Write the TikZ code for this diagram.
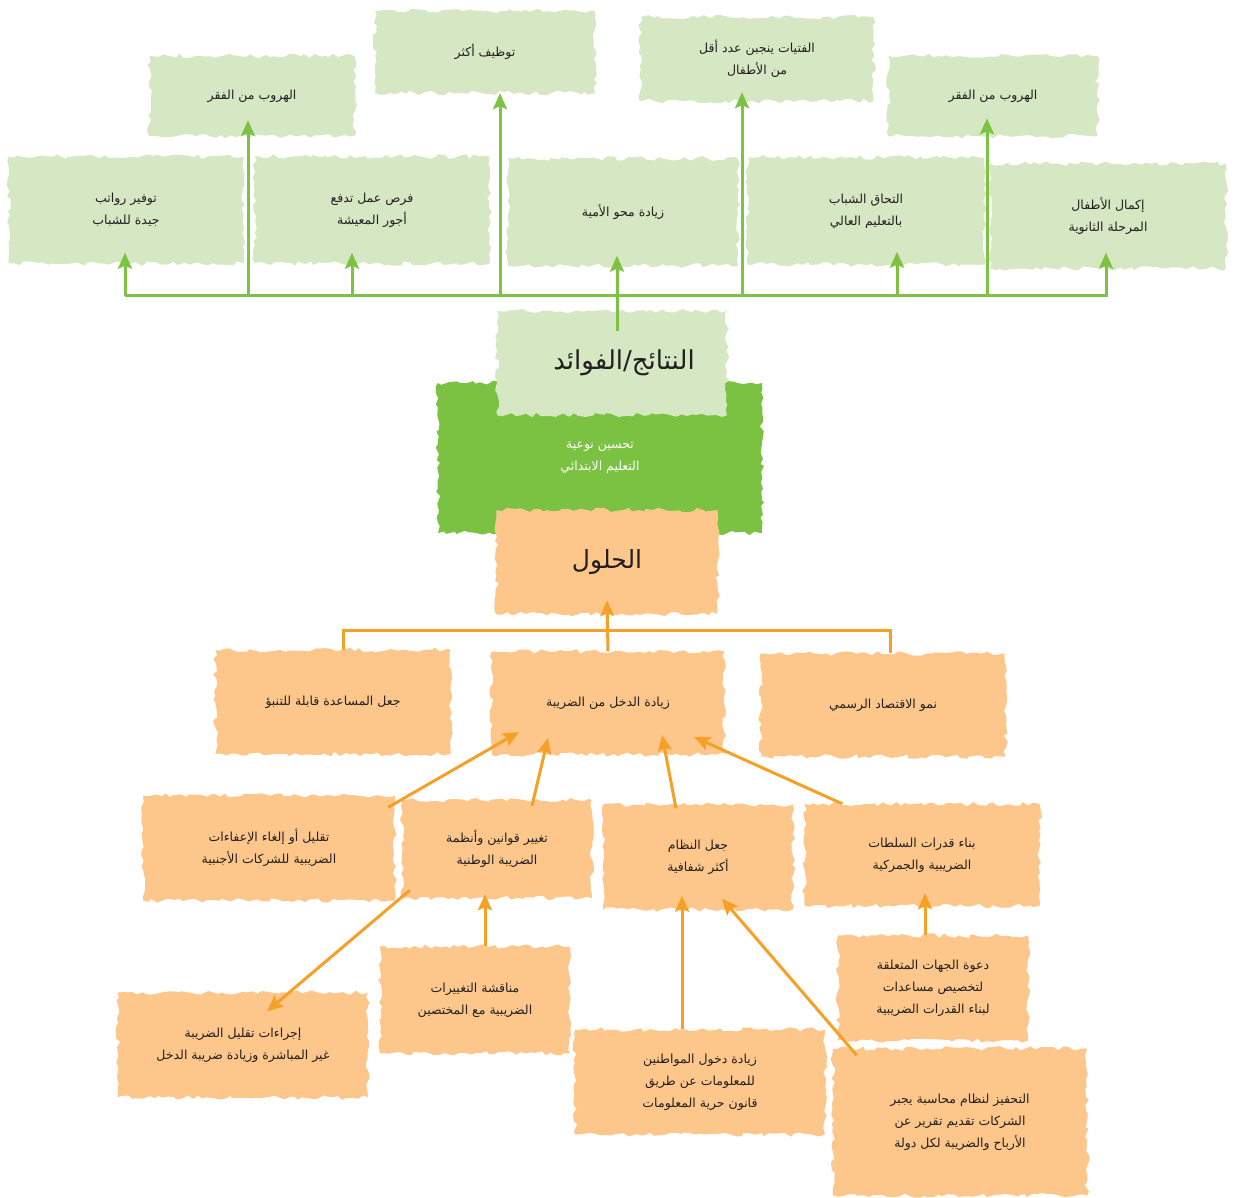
\documentclass[tikz,border=0pt]{standalone}
\usepackage{fontspec}
\newfontfamily\arabicfont[Script=Arabic]{DejaVu Sans}
\TeXXeTstate=1
\usetikzlibrary{decorations.pathmorphing,arrows.meta,calc}
\definecolor{lgreen}{HTML}{D5E8C3}
\definecolor{dgreen}{HTML}{7BC142}
\definecolor{gline}{HTML}{7DC242}
\definecolor{ofill}{HTML}{FDC78C}
\definecolor{oline}{HTML}{F7A026}
\definecolor{txt}{HTML}{231F20}
\newcommand\AR[1]{\beginR#1\endR}
\begin{document}
\begin{tikzpicture}[x=1pt,y=-1pt,
  blob/.style={decorate,decoration={random steps,segment length=5pt,amplitude=2.3pt},
    inner sep=0pt,text=txt,align=center,font=\arabicfont\fontsize{12.5}{22}\selectfont},
  gbox/.style={blob,fill=lgreen},
  obox/.style={blob,fill=ofill},
  glin/.style={draw=gline,line width=3pt},
  olin/.style={draw=oline,line width=3pt},
  garrow/.style={glin,-{Stealth[length=16pt,width=14pt,inset=3pt]}},
  oarrow/.style={olin,-{Stealth[length=16pt,width=14pt,inset=3pt]}},
]
\pgfmathsetseed{11}
\useasboundingbox (0,0) rectangle (1234,1198);

% ---------- top green boxes ----------
\node[gbox,minimum width=205pt,minimum height=80pt] (pov1) at (252,96) {\AR{الهروب من الفقر}};
\node[gbox,minimum width=220pt,minimum height=82pt] (emp) at (485,52) {\AR{توظيف أكثر}};
\node[gbox,minimum width=233pt,minimum height=84pt] (girls) at (757,59) {\AR{الفتيات ينجبن عدد أقل}\\\AR{من الأطفال}};
\node[gbox,minimum width=209pt,minimum height=80pt] (pov2) at (993,96) {\AR{الهروب من الفقر}};

\node[gbox,minimum width=235pt,minimum height=107pt] (sal) at (126,210) {\AR{توفير رواتب}\\\AR{جيدة للشباب}};
\node[gbox,minimum width=235pt,minimum height=107pt] (jobs) at (372,210) {\AR{فرص عمل تدفع}\\\AR{أجور المعيشة}};
\node[gbox,minimum width=230pt,minimum height=107pt] (lit) at (623,212) {\AR{زيادة محو الأمية}};
\node[gbox,minimum width=237pt,minimum height=107pt] (uni) at (866,211) {\AR{التحاق الشباب}\\\AR{بالتعليم العالي}};
\node[gbox,minimum width=236pt,minimum height=105pt] (sec) at (1108,216) {\AR{إكمال الأطفال}\\\AR{المرحلة الثانوية}};

% ---------- centre ----------
\node[blob,fill=dgreen,text=white,minimum width=324pt,minimum height=150pt] (qual) at (600,458) {\AR{تحسين نوعية}\\\AR{التعليم الابتدائي}};
\node[gbox,minimum width=230pt,minimum height=104pt,font=\arabicfont\fontsize{26}{30}\selectfont] (res) at (612,363) {\hspace*{24pt}\AR{النتائج/الفوائد}};
\node[obox,minimum width=221pt,minimum height=104pt,font=\arabicfont\fontsize{25}{30}\selectfont] (sol) at (607,562) {\AR{الحلول}};

% ---------- orange boxes ----------
\node[obox,minimum width=235pt,minimum height=104pt] (pred) at (333,702) {\AR{جعل المساعدة قابلة للتنبؤ}};
\node[obox,minimum width=233pt,minimum height=103pt] (tax) at (608,703) {\AR{زيادة الدخل من الضريبة}};
\node[obox,minimum width=245pt,minimum height=103pt] (formal) at (883,705) {\AR{نمو الاقتصاد الرسمي}};

\node[obox,minimum width=252pt,minimum height=105pt] (exempt) at (269,848) {\AR{تقليل أو إلغاء الإعفاءات}\\\AR{الضريبية للشركات الأجنبية}};
\node[obox,minimum width=190pt,minimum height=98pt] (laws) at (497,849) {\AR{تغيير قوانين وأنظمة}\\\AR{الضريبة الوطنية}};
\node[obox,minimum width=190pt,minimum height=105pt] (transp) at (698,857) {\AR{جعل النظام}\\\AR{أكثر شفافية}};
\node[obox,minimum width=235pt,minimum height=102pt] (capac) at (922,855) {\AR{بناء قدرات السلطات}\\\AR{الضريبية والجمركية}};

\node[obox,minimum width=250pt,minimum height=105pt] (indirect) at (243,1045) {\AR{إجراءات تقليل الضريبة}\\\AR{غير المباشرة وزيادة ضريبة الدخل}};
\node[obox,minimum width=190pt,minimum height=107pt] (discuss) at (475,1000) {\AR{مناقشة التغييرات}\\\AR{الضريبية مع المختصين}};
\node[obox,minimum width=190pt,minimum height=105pt] (invite) at (933,988) {\AR{دعوة الجهات المتعلقة}\\\AR{لتخصيص مساعدات}\\\AR{لبناء القدرات الضريبية}};
\node[obox,minimum width=250pt,minimum height=105pt] (foi) at (700,1082) {\AR{زيادة دخول المواطنين}\\\AR{للمعلومات عن طريق}\\\AR{قانون حرية المعلومات}};
\node[obox,minimum width=254pt,minimum height=147pt] (cbcr) at (960,1122) {\AR{التحفيز لنظام محاسبة يجبر}\\\AR{الشركات تقديم تقرير عن}\\\AR{الأرباح والضريبة لكل دولة}};

% ---------- green connectors ----------
\coordinate (busL) at (125,296);
\coordinate (busR) at (1108,296);
\draw[glin] (busL) -- (busR);
\coordinate (tsal) at ($(sal.south)+(-1,-11)$);
\coordinate (tpov1) at ($(pov1.south)+(-4,-16)$);
\coordinate (tjobs) at ($(jobs.south)+(-20,-11)$);
\coordinate (temp) at ($(emp.south)+(15,0)$);
\coordinate (tgirls) at ($(girls.south)+(-15,-9)$);
\coordinate (tuni) at ($(uni.south)+(31,-13)$);
\coordinate (tpov2) at ($(pov2.south)+(-6,-18)$);
\coordinate (tsec) at ($(sec.south)+(-2,-16)$);
\foreach \t in {tsal,tpov1,tjobs,temp,tgirls,tuni,tpov2,tsec}
  \draw[garrow] (\t |- busL) -- (\t);
\coordinate (tlit) at ($(lit.south)+(-6,-10)$);
\draw[garrow] ($(res.north)+(5,20)$) -- (tlit |- busL) -- (tlit);

% ---------- orange connectors ----------
\coordinate (obL) at (343,630);
\coordinate (obR) at (890,630);
\draw[olin] (obL |- pred.north) -- (obL) -- (obR) -- (obR |- formal.north);
\draw[oarrow] (tax.north) -- ($(sol.south)+(0,-14)$);

\draw[oarrow] ($(exempt.north east)+(-7,12)$) -- ($(tax.center)+(-89,29)$);
\draw[oarrow] ($(laws.north)+(35,6)$) -- ($(tax.center)+(-60,35)$);
\draw[oarrow] ($(transp.north)+(-22,4)$) -- ($(tax.center)+(54,32)$);
\draw[oarrow] ($(capac.north west)+(38,0)$) -- ($(tax.center)+(86,34)$);

\draw[oarrow] ($(laws.south west)+(8,-8)$) -- ($(indirect.north)+(24,19)$);
\draw[oarrow] ($(discuss.north)+(10,0)$) -- ($(laws.south)+(-12,-4)$);
\draw[oarrow] ($(invite.north)+(-8,0)$) -- ($(capac.south)+(3,-13)$);
\draw[oarrow] ($(foi.north)+(-18,0)$) -- ($(transp.south)+(-16,-14)$);
\draw[oarrow] ($(cbcr.north west)+(24,7)$) -- ($(transp.south)+(24,-11)$);
\end{tikzpicture}
\end{document}
